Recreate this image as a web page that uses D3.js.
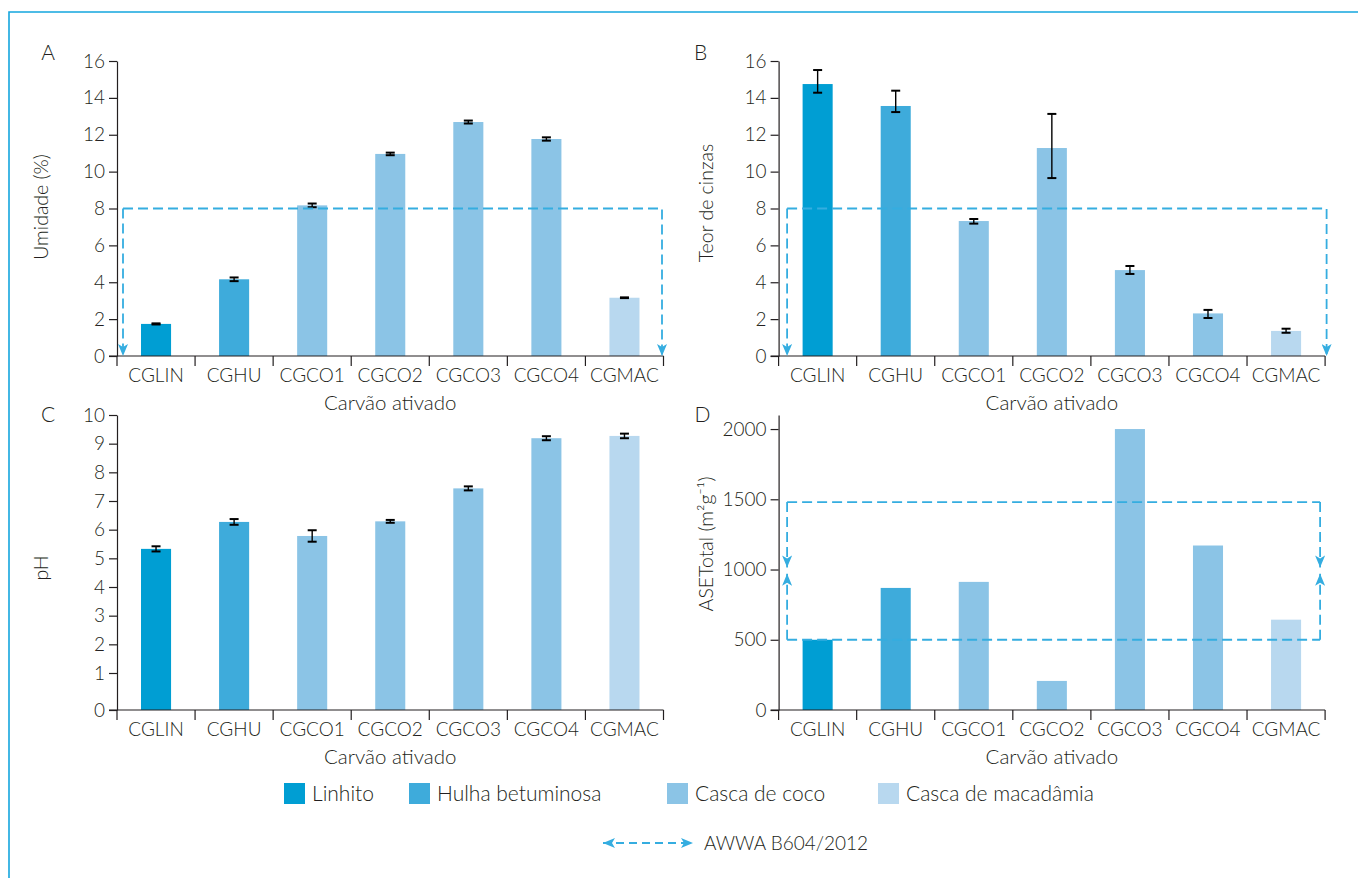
<!DOCTYPE html>
<html>
<head>
<meta charset="utf-8">
<script src="https://cdn.jsdelivr.net/npm/d3@7"></script>
<style>
  html, body { margin: 0; padding: 0; background: #fff; }
  svg { display: block; }
  text { font-family: "Lato", "Open Sans", sans-serif; font-weight: 300; fill: #231f20; }
</style>
</head>
<body>
<svg id="chart" width="1358" height="878"></svg>
<script>
// ---------- DATA ----------
const categories = ["CGLIN", "CGHU", "CGCO1", "CGCO2", "CGCO3", "CGCO4", "CGMAC"];
const materialOf = ["Linhito", "Hulha betuminosa", "Casca de coco", "Casca de coco", "Casca de coco", "Casca de coco", "Casca de macadâmia"];
const materials = ["Linhito", "Hulha betuminosa", "Casca de coco", "Casca de macadâmia"];
const materialColors = ["#009ed3", "#3eabdb", "#8bc4e6", "#b8d8ef"];

// A: Umidade (%)
const umidade = [1.74, 4.16, 8.17, 10.96, 12.69, 11.77, 3.16];
const umidadeErr = [0.03, 0.10, 0.10, 0.07, 0.08, 0.09, 0.02];
const umidadeTicks = [0, 2, 4, 6, 8, 10, 12, 14, 16];
const umidadeLimit = 8;

// B: Teor de cinzas
const cinzas = [14.75, 13.56, 7.32, 11.28, 4.66, 2.31, 1.36];
const cinzasLo = [14.28, 13.23, 7.18, 9.65, 4.45, 2.06, 1.26];
const cinzasHi = [15.51, 14.39, 7.43, 13.13, 4.88, 2.50, 1.48];
const cinzasTicks = [0, 2, 4, 6, 8, 10, 12, 14, 16];
const cinzasLimit = 8;

// C: pH
const ph = [5.33, 6.27, 5.78, 6.29, 7.44, 9.19, 9.27];
const phErr = [0.09, 0.10, 0.20, 0.05, 0.07, 0.07, 0.08];
const phTicks = [0, 1, 2, 3, 4, 5, 6, 7, 8, 9, 10];

// D: ASE Total (m²g⁻¹)
const ase = [500, 869, 912, 207, 2000, 1171, 643];
const aseTicks = [0, 500, 1000, 1500, 2000];
const aseLimitLow = 500;
const aseLimitHigh = 1480;
const aseArrowDown = 1015;
const aseArrowUp = 970;

// ---------- DRAWING ----------
const svg = d3.select("#chart");
const TEXT = "#231f20";
const DASH = "#35ade0";
const DASHARRAY = "10,5";
const DASHW = 1.8;
const color = d3.scaleOrdinal().domain(materials).range(materialColors);

// frame
svg.append("path")
  .attr("d", "M9,878 L9,12 L1358,12")
  .attr("fill", "none").attr("stroke", "#14a6de").attr("stroke-width", 1.6);

const defs = svg.append("defs");
defs.append("marker").attr("id", "arr")
  .attr("viewBox", "0 0 12 10").attr("refX", 12).attr("refY", 5)
  .attr("markerWidth", 12).attr("markerHeight", 10).attr("markerUnits", "userSpaceOnUse")
  .attr("orient", "auto-start-reverse")
  .append("path").attr("d", "M0,0 L12,5 L0,10 L3,5 Z").attr("fill", DASH);

function panel(opts) {
  const g = svg.append("g").attr("transform", `translate(${opts.left},${opts.top})`);
  const W = opts.width, H = opts.height;
  const x = d3.scaleBand().domain(categories).range([0, W]).padding(0);
  const y = opts.y;
  const bw = x.bandwidth() * 0.385;

  // bars
  g.selectAll("rect.bar").data(categories).join("rect")
    .attr("class", "bar")
    .attr("x", c => x(c) + (x.bandwidth() - bw) / 2)
    .attr("width", bw)
    .attr("y", (c, i) => y(opts.values[i]))
    .attr("height", (c, i) => y(0) - y(opts.values[i]))
    .attr("fill", (c, i) => color(materialOf[i]));

  // error bars
  if (opts.lo) {
    const eb = g.append("g");
    categories.forEach((c, i) => {
      const cx = x(c) + x.bandwidth() / 2;
      const y1 = y(opts.hi[i]), y2 = y(opts.lo[i]);
      eb.append("line").attr("x1", cx).attr("x2", cx).attr("y1", y1).attr("y2", y2)
        .attr("stroke", "#000").attr("stroke-width", 1.4);
      [y1, y2].forEach(yy => eb.append("line")
        .attr("x1", cx - 4.5).attr("x2", cx + 4.5).attr("y1", yy).attr("y2", yy)
        .attr("stroke", "#000").attr("stroke-width", 2));
    });
  }

  // y axis
  const ya = g.append("g").call(d3.axisLeft(y).tickValues(opts.ticks).tickFormat(d3.format("d"))
    .tickSize(8).tickSizeOuter(0).tickPadding(4));
  ya.select(".domain").attr("stroke", TEXT).attr("stroke-width", 1.2);
  ya.selectAll(".tick line").attr("stroke", TEXT).attr("stroke-width", 1.2);
  ya.selectAll(".tick text").style("font-size", "19px").style("font-family", "Lato, sans-serif").style("font-weight", 300).attr("fill", TEXT);

  // x axis
  const xa = g.append("g").attr("transform", `translate(0,${H})`);
  xa.append("line").attr("x1", -8).attr("x2", W).attr("y1", 0).attr("y2", 0)
    .attr("stroke", TEXT).attr("stroke-width", 1.2);
  const bounds = categories.map(c => x(c)).concat([W]);
  xa.selectAll("line.t").data(bounds).join("line").attr("class", "t")
    .attr("x1", d => d).attr("x2", d => d).attr("y1", 0).attr("y2", 10)
    .attr("stroke", TEXT).attr("stroke-width", 1.2);
  xa.selectAll("text.cat").data(categories).join("text").attr("class", "cat")
    .attr("x", c => x(c) + x.bandwidth() / 2).attr("y", 26)
    .attr("text-anchor", "middle").style("font-size", "19px").text(c => c);
  xa.append("text").attr("x", W / 2).attr("y", 54).attr("text-anchor", "middle")
    .style("font-size", "20.5px").text("Carvão ativado");

  // y title
  g.append("text").attr("transform", `translate(${opts.ytX},${opts.ytY}) rotate(-90)`)
    .attr("text-anchor", "middle").attr("dy", "0.35em")
    .style("font-size", "19.5px").text(opts.ytitle);

  // panel letter
  g.append("text").attr("x", opts.letterX).attr("y", opts.letterY)
    .attr("text-anchor", "middle").attr("dy", "0.35em")
    .style("font-size", "21px").text(opts.letter);

  return { g, x, y, W, H };
}

const chartW = 546.5, chartH = 295;

// A
const pA = panel({
  left: 117, top: 61, width: chartW, height: chartH,
  y: d3.scaleLinear().domain([0, 16]).range([chartH, 0]),
  values: umidade,
  lo: umidade.map((v, i) => v - umidadeErr[i]), hi: umidade.map((v, i) => v + umidadeErr[i]),
  ticks: umidadeTicks, ytitle: "Umidade (%)", ytX: -76, ytY: 146,
  letter: "A", letterX: -69, letterY: -8
});
// B
const pB = panel({
  left: 778.6, top: 61, width: chartW, height: chartH,
  y: d3.scaleLinear().domain([0, 16]).range([chartH, 0]),
  values: cinzas, lo: cinzasLo, hi: cinzasHi,
  ticks: cinzasTicks, ytitle: "Teor de cinzas", ytX: -72, ytY: 142,
  letter: "B", letterX: -78, letterY: -8
});
// C  (the original axis puts 0 slightly below the regular 1..10 spacing)
const pC = panel({
  left: 117, top: 415, width: chartW, height: chartH,
  y: d3.scaleLinear().domain([0, 1, 10]).range([chartH, chartH - 37, 0]),
  values: ph, lo: ph.map((v, i) => v - phErr[i]), hi: ph.map((v, i) => v + phErr[i]),
  ticks: phTicks, ytitle: "pH", ytX: -76, ytY: 153,
  letter: "C", letterX: -69, letterY: 0
});
// D
const pD = panel({
  left: 778.6, top: 415, width: chartW, height: chartH,
  y: d3.scaleLinear().domain([0, 2100]).range([chartH, 0]),
  values: ase, ticks: aseTicks, ytitle: "ASETotal (m²g⁻¹)", ytX: -72, ytY: 129,
  letter: "D", letterX: -76, letterY: 0
});

// AWWA limit annotations
function dashed(sel) {
  return sel.attr("fill", "none").attr("stroke", DASH).attr("stroke-width", DASHW)
    .attr("stroke-dasharray", DASHARRAY);
}
function limitUpper(p, limit, lx, rx) {
  const yy = p.y(limit), y0 = p.y(0);
  dashed(p.g.append("path").attr("d", `M${lx},${yy} L${lx},${y0}`)).attr("marker-end", "url(#arr)");
  dashed(p.g.append("path").attr("d", `M${lx},${yy} L${rx},${yy} L${rx},${y0}`)).attr("marker-end", "url(#arr)");
}
limitUpper(pA, umidadeLimit, 6, pA.W - 1.5);
limitUpper(pB, cinzasLimit, 8.5, pB.W + 1.5);

(function () {
  const p = pD, lx = 8.5, rx = p.W - 5;
  const yT = p.y(aseLimitHigh), yB = p.y(aseLimitLow);
  const yDn = p.y(aseArrowDown), yUp = p.y(aseArrowUp);
  dashed(p.g.append("path").attr("d", `M${lx},${yT} L${rx},${yT}`));
  dashed(p.g.append("path").attr("d", `M${lx},${yB} L${rx},${yB}`));
  [lx, rx].forEach(xx => {
    dashed(p.g.append("path").attr("d", `M${xx},${yT} L${xx},${yDn}`)).attr("marker-end", "url(#arr)");
    dashed(p.g.append("path").attr("d", `M${xx},${yB} L${xx},${yUp}`)).attr("marker-end", "url(#arr)");
  });
})();

// legend
const legendX = [284, 409, 667, 878];
const lg = svg.append("g");
materials.forEach((m, i) => {
  lg.append("rect").attr("x", legendX[i]).attr("y", 783).attr("width", 21).attr("height", 21)
    .attr("fill", materialColors[i]);
  lg.append("text").attr("x", legendX[i] + 28).attr("y", 794).attr("dy", "0.35em")
    .style("font-size", "21px").text(m);
});
lg.append("path").attr("d", "M603,843 L693,843")
  .attr("fill", "none").attr("stroke", DASH).attr("stroke-width", DASHW)
  .attr("stroke-dasharray", "8,5")
  .attr("marker-start", "url(#arr)").attr("marker-end", "url(#arr)");
lg.append("text").attr("x", 704).attr("y", 843).attr("dy", "0.35em")
  .style("font-size", "19px").text("AWWA B604/2012");
</script>
</body>
</html>
